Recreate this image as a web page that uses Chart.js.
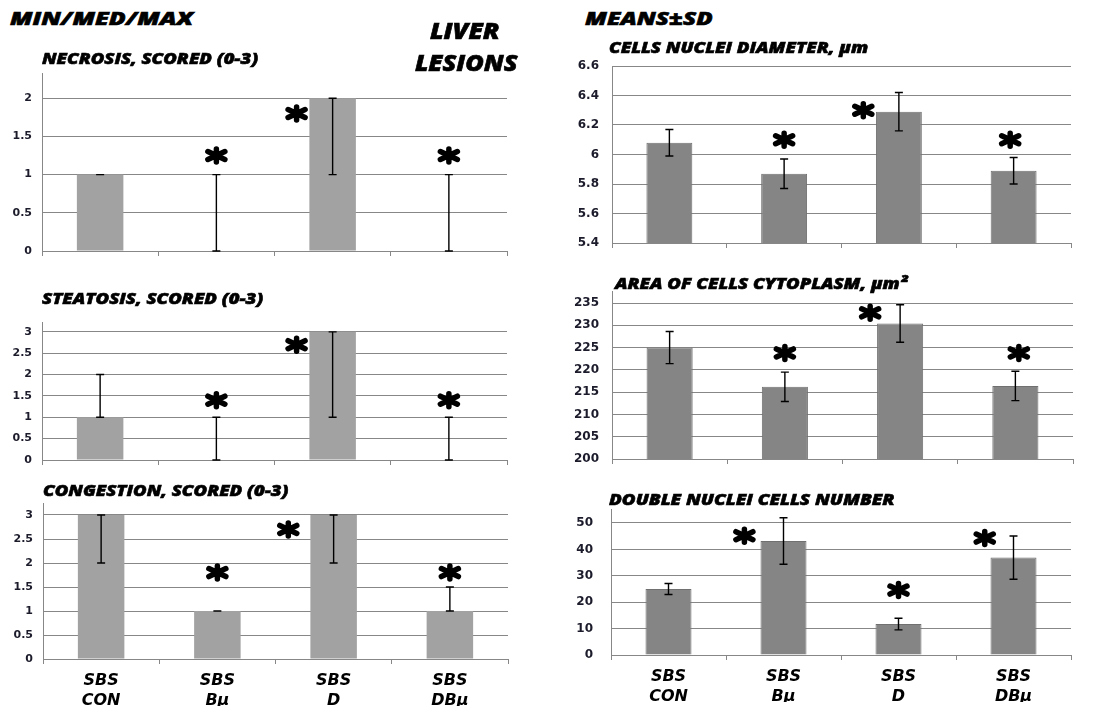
<!DOCTYPE html>
<html>
<head>
<meta charset="utf-8">
<script src="https://cdn.jsdelivr.net/npm/chart.js@4.4.0/dist/chart.umd.min.js"></script>
<style>
  html, body { margin: 0; padding: 0; background: #fff; }
  #fig { position: relative; width: 1120px; height: 706px; overflow: hidden; background: #fff; }
  .box { position: absolute; }
  .t { position: absolute; white-space: nowrap; font-family: "Open Sans", "DejaVu Sans", sans-serif;
       font-weight: 800; font-style: italic; color: #000; transform-origin: 0 50%;
       -webkit-text-stroke: 0.6px #000; }
</style>
</head>
<body>
<div id="fig"></div>
<script>
const groups = [['SBS', 'CON'], ['SBS', 'Bμ'], ['SBS', 'D'], ['SBS', 'DBμ']];

// left column: median bars, min..max whiskers (scores 0-3)
const necrosisMed = [1, 0, 2, 0];
const necrosisMin = [1, 0, 1, 0];
const necrosisMax = [1, 1, 2, 1];

const steatosisMed = [1, 0, 3, 0];
const steatosisMin = [1, 0, 1, 0];
const steatosisMax = [2, 1, 3, 1];

const congestionMed = [3, 1, 3, 1];
const congestionMin = [2, 1, 2, 1];
const congestionMax = [3, 1, 3, 1.5];

// right column: means ± SD
const nucleiMean = [6.08, 5.87, 6.29, 5.89];
const nucleiSd = [0.09, 0.10, 0.13, 0.09];

const areaMean = [225.0, 216.2, 230.4, 216.4];
const areaSd = [3.6, 3.3, 4.2, 3.3];

const doubleMean = [25.0, 43.2, 11.7, 36.9];
const doubleSd = [2.1, 8.8, 2.2, 8.2];

// height of the significance asterisks, in axis units
const necrosisStars = [null, 1.25, 1.8, 1.25];
const steatosisStars = [null, 1.4, 2.7, 1.4];
const congestionStars = [null, 1.8, 2.7, 1.8];
const nucleiStars = [null, 6.1, 6.3, 6.1];
const areaStars = [null, 223.8, 232.8, 223.8];
const doubleStars = [null, 45.2, 24.6, 44.3];

const minus = (m, s) => m.map((v, i) => v - s[i]);
const plus = (m, s) => m.map((v, i) => v + s[i]);

const GRID = '#878787';
const LIGHT = '#a2a2a2';
const DARK = '#858585';

const panels = [
  { l: 42, r: 507, t: 73, b: 251, yw: 42, xh: 30, min: 0, max: 2.33, step: 0.5, pad: 10, fs: 11, fill: LIGHT,
    vals: necrosisMed, lo: necrosisMin, hi: necrosisMax, stars: necrosisStars, dx: [0, 0, -0.31, 0] },
  { l: 42, r: 507, t: 322, b: 460, yw: 42, xh: 30, min: 0, max: 3.23, step: 0.5, pad: 10, fs: 11, fill: LIGHT,
    vals: steatosisMed, lo: steatosisMin, hi: steatosisMax, stars: steatosisStars, dx: [0, 0, -0.31, 0] },
  { l: 43, r: 508, t: 503, b: 659, yw: 43, xh: 47, min: 0, max: 3.25, step: 0.5, pad: 10, fs: 11, fill: LIGHT,
    vals: congestionMed, lo: congestionMin, hi: congestionMax, stars: congestionStars, dx: [0, 0, -0.39, 0], labels: true },
  { l: 612, r: 1071, t: 66, b: 243, yw: 52, xh: 30, min: 5.4, max: 6.6, step: 0.2, pad: 13, fs: 12, fill: DARK,
    vals: nucleiMean, lo: minus(nucleiMean, nucleiSd), hi: plus(nucleiMean, nucleiSd), stars: nucleiStars, dx: [0, 0, -0.31, -0.03] },
  { l: 612, r: 1073, t: 291, b: 459, yw: 52, xh: 30, min: 200, max: 237.7, step: 5, pad: 13, fs: 12, fill: DARK,
    vals: areaMean, lo: minus(areaMean, areaSd), hi: plus(areaMean, areaSd), stars: areaStars, dx: [0, 0, -0.26, 0.03] },
  { l: 611, r: 1071, t: 509, b: 655, yw: 51, xh: 47, min: 0, max: 55.3, step: 10, pad: 18, fs: 12, fill: DARK,
    vals: doubleMean, lo: minus(doubleMean, doubleSd), hi: plus(doubleMean, doubleSd), stars: doubleStars, dx: [0, -0.34, 0, -0.25], labels: true }
];

const whiskers = {
  id: 'whiskers',
  afterDatasetsDraw(chart, args, o) {
    const { ctx } = chart;
    const x = chart.scales.x, y = chart.scales.y;
    const cat = x.width / o.lo.length;
    ctx.save();
    ctx.strokeStyle = '#000';
    ctx.lineWidth = 1.4;
    o.lo.forEach((lo, i) => {
      const px = x.getPixelForValue(i);
      const y1 = y.getPixelForValue(lo), y2 = y.getPixelForValue(o.hi[i]);
      ctx.beginPath();
      ctx.moveTo(px, y1); ctx.lineTo(px, y2);
      ctx.moveTo(px - 4, y1); ctx.lineTo(px + 4, y1);
      ctx.moveTo(px - 4, y2); ctx.lineTo(px + 4, y2);
      ctx.stroke();
    });
    // significance asterisks
    ctx.lineWidth = 5.5;
    ctx.lineCap = 'round';
    o.stars.forEach((v, i) => {
      if (v == null) return;
      const cx = x.getPixelForValue(i) + o.dx[i] * cat;
      const cy = y.getPixelForValue(v);
      ctx.beginPath();
      ctx.moveTo(cx, cy - 6.5); ctx.lineTo(cx, cy + 6.5);
      ctx.moveTo(cx - 8.5, cy - 4); ctx.lineTo(cx + 8.5, cy + 4);
      ctx.moveTo(cx - 8.5, cy + 4); ctx.lineTo(cx + 8.5, cy - 4);
      ctx.stroke();
    });
    ctx.restore();
  }
};

const fig = document.getElementById('fig');
const PT = 30, PR = 6;

panels.forEach(p => {
  const box = document.createElement('div');
  box.className = 'box';
  box.style.left = (p.l - p.yw) + 'px';
  box.style.top = (p.t - PT) + 'px';
  box.style.width = (p.yw + p.r - p.l + PR) + 'px';
  box.style.height = (PT + p.b - p.t + p.xh) + 'px';
  const cv = document.createElement('canvas');
  box.appendChild(cv);
  fig.appendChild(box);

  new Chart(cv, {
    type: 'bar',
    data: {
      labels: groups,
      datasets: [{
        data: p.vals,
        backgroundColor: p.fill,
        borderColor: p.fill === DARK ? '#707070' : p.fill,
        borderWidth: p.fill === DARK ? 1 : 0,
        barPercentage: 0.4,
        categoryPercentage: 1
      }]
    },
    options: {
      responsive: true,
      maintainAspectRatio: false,
      animation: false,
      layout: { padding: { top: PT, right: PR, left: 0, bottom: 0 } },
      plugins: {
        legend: { display: false },
        tooltip: { enabled: false },
        whiskers: { lo: p.lo, hi: p.hi, stars: p.stars, dx: p.dx }
      },
      scales: {
        x: {
          grid: { offset: true, drawOnChartArea: false, tickLength: 5, color: GRID },
          border: { color: GRID },
          ticks: {
            display: !!p.labels,
            autoSkip: false, maxRotation: 0, padding: 7, color: '#000',
            font: { family: 'DejaVu Sans', weight: 'bold', style: 'italic', size: 16, lineHeight: 1.25 }
          },
          afterFit(s) { s.height = p.xh; }
        },
        y: {
          min: p.min, max: p.max,
          grid: { color: GRID, drawTicks: false },
          border: { color: GRID },
          ticks: {
            stepSize: p.step, includeBounds: false, padding: p.pad, color: '#1b1b2b',
            font: { family: 'DejaVu Sans', weight: 'bold', size: p.fs },
            callback: v => String(+v.toFixed(2))
          },
          afterFit(s) { s.width = p.yw; }
        }
      }
    },
    plugins: [whiskers]
  });
});

// headings: [text, left, centre y, fitted width, font size]
const titles = [
  ['MIN/MED/MAX', 10, 18, 183, 18],
  ['LIVER', 430, 30, 70, 22],
  ['LESIONS', 415, 62, 102, 22],
  ['NECROSIS, SCORED (0-3)', 42, 58, 216, 16],
  ['STEATOSIS, SCORED (0-3)', 42, 298, 221, 16],
  ['CONGESTION, SCORED (0-3)', 43, 490, 245, 16],
  ['MEANS±SD', 585, 18, 127, 18],
  ['CELLS NUCLEI DIAMETER, µm', 609, 47, 259, 16],
  ['AREA OF CELLS CYTOPLASM, µm²', 615, 283, 293, 16],
  ['DOUBLE NUCLEI CELLS NUMBER', 609, 499, 286, 16]
];

titles.forEach(([txt, x, cy, w, fs]) => {
  const d = document.createElement('div');
  d.className = 't';
  d.textContent = txt;
  d.style.left = x + 'px';
  d.style.fontSize = fs + 'px';
  d.style.lineHeight = fs + 'px';
  d.style.top = (cy - fs / 2) + 'px';
  fig.appendChild(d);
  d.style.transform = 'scaleX(' + (w / d.offsetWidth) + ')';
});
</script>
</body>
</html>
